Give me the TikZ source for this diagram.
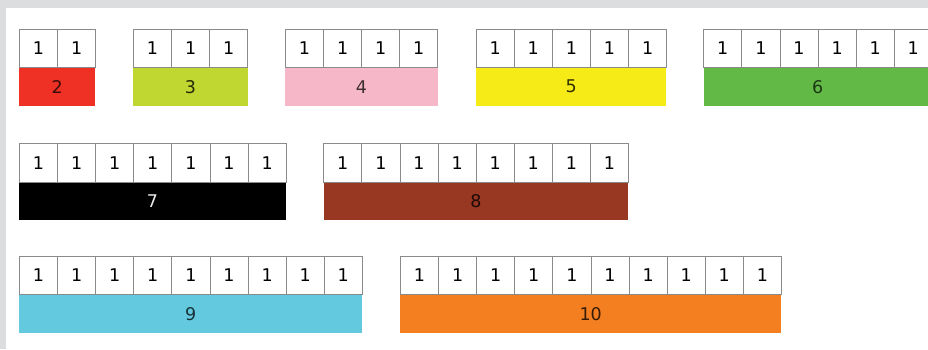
\documentclass[tikz,border=0pt]{standalone}
\usepackage{fontspec}
\setmainfont{DejaVu Sans}
\definecolor{framegray}{HTML}{DCDDDF}
\definecolor{cellgray}{HTML}{8A8A8A}
\definecolor{cred}{HTML}{EE3124}
\definecolor{clime}{HTML}{BFD730}
\definecolor{cpink}{HTML}{F6B8C9}
\definecolor{cyellow}{HTML}{F6EB16}
\definecolor{cgreen}{HTML}{62B946}
\definecolor{cblack}{HTML}{000000}
\definecolor{cbrown}{HTML}{983722}
\definecolor{ccyan}{HTML}{63C9DF}
\definecolor{corange}{HTML}{F47F20}
\tikzset{
  cell/.style={draw=cellgray, line width=0.9pt, fill=white, minimum width=38.1pt,
    minimum height=38.3pt, inner sep=0pt, anchor=north west,
    font=\fontsize{17.5}{20}\selectfont, text=black},
  barbox/.style={inner sep=0pt, minimum height=38.3pt, anchor=north west,
    font=\fontsize{17.5}{20}\selectfont},
}
\newcommand\numbar[5]{%
  \node[barbox, fill=#4, text=#5, minimum width=#1*38.1pt] (b#1) at (#2,#3+38.3) {#1};
  \foreach \i in {1,...,#1}{
    \node[cell] (c#1-\i) at ({#2+(\i-1)*38.1},#3) {1};
  }%
}
\begin{document}
\begin{tikzpicture}[x=1pt,y=-1pt]
\useasboundingbox (0,0) rectangle (928,349);
\clip (0,0) rectangle (928,349);
\fill[framegray] (0,0) rectangle (928,349);
\fill[white] (6,7.5) rectangle (929,350);
\numbar{2}{19}{29}{cred}{cred!25!black}
\numbar{3}{133}{29}{clime}{clime!20!black}
\numbar{4}{285}{29}{cpink}{cpink!25!black}
\numbar{5}{475.7}{29}{cyellow}{cyellow!20!black}
\numbar{6}{703.3}{29}{cgreen}{cgreen!30!black}
\numbar{7}{19}{143.3}{cblack}{white!92!black}
\numbar{8}{323.3}{143.3}{cbrown}{cbrown!20!black}
\numbar{9}{19}{256}{ccyan}{ccyan!25!black}
\numbar{10}{400}{256}{corange}{corange!22!black}
\end{tikzpicture}
\end{document}
